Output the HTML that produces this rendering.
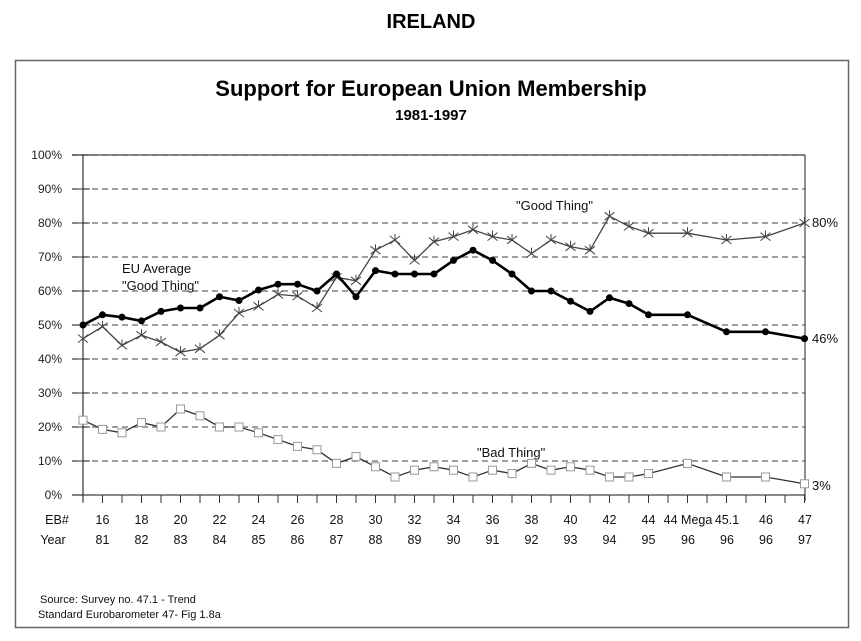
<!DOCTYPE html>
<html><head><meta charset="utf-8"><style>
html,body{margin:0;padding:0;background:#fff;}
svg{display:block;font-family:"Liberation Sans",Arial,sans-serif;}
</style></head><body>
<svg id="s" width="861" height="641" viewBox="0 0 861 641" xmlns="http://www.w3.org/2000/svg">
<rect x="0" y="0" width="861" height="641" fill="#fff"/>
<text x="431" y="28" text-anchor="middle" font-size="20" font-weight="bold">IRELAND</text>
<rect x="15.5" y="60.5" width="833" height="567" fill="none" stroke="#666" stroke-width="1.5"/>
<text x="431" y="96" text-anchor="middle" font-size="22" font-weight="bold">Support for European Union Membership</text>
<text x="431" y="120" text-anchor="middle" font-size="15" font-weight="bold">1981-1997</text>
<g id="grid"></g>
<g id="lbl" font-size="12" fill="#222">
<text x="62" y="159" text-anchor="end">100%</text>
<text x="62" y="193" text-anchor="end">90%</text>
<text x="62" y="227" text-anchor="end">80%</text>
<text x="62" y="261" text-anchor="end">70%</text>
<text x="62" y="295" text-anchor="end">60%</text>
<text x="62" y="329" text-anchor="end">50%</text>
<text x="62" y="363" text-anchor="end">40%</text>
<text x="62" y="397" text-anchor="end">30%</text>
<text x="62" y="431" text-anchor="end">20%</text>
<text x="62" y="465" text-anchor="end">10%</text>
<text x="62" y="499" text-anchor="end">0%</text>
</g>
<g font-size="12.5" fill="#111" text-anchor="middle">
<text x="57" y="524">EB#</text><text x="53" y="544">Year</text>
<text x="102.5" y="524">16</text><text x="102.5" y="544">81</text>
<text x="141.5" y="524">18</text><text x="141.5" y="544">82</text>
<text x="180.5" y="524">20</text><text x="180.5" y="544">83</text>
<text x="219.5" y="524">22</text><text x="219.5" y="544">84</text>
<text x="258.5" y="524">24</text><text x="258.5" y="544">85</text>
<text x="297.5" y="524">26</text><text x="297.5" y="544">86</text>
<text x="336.5" y="524">28</text><text x="336.5" y="544">87</text>
<text x="375.5" y="524">30</text><text x="375.5" y="544">88</text>
<text x="414.5" y="524">32</text><text x="414.5" y="544">89</text>
<text x="453.5" y="524">34</text><text x="453.5" y="544">90</text>
<text x="492.5" y="524">36</text><text x="492.5" y="544">91</text>
<text x="531.5" y="524">38</text><text x="531.5" y="544">92</text>
<text x="570.5" y="524">40</text><text x="570.5" y="544">93</text>
<text x="609.5" y="524">42</text><text x="609.5" y="544">94</text>
<text x="648.5" y="524">44</text><text x="648.5" y="544">95</text>
<text x="688" y="524">44 Mega</text><text x="688" y="544">96</text>
<text x="727" y="524">45.1</text><text x="727" y="544">96</text>
<text x="766" y="524">46</text><text x="766" y="544">96</text>
<text x="805" y="524">47</text><text x="805" y="544">97</text>
</g>
<g font-size="13" fill="#111">
<text x="122" y="273">EU Average</text>
<text x="122" y="290">"Good Thing"</text>
<text x="516" y="210">"Good Thing"</text>
<text x="477" y="457">"Bad Thing"</text>
<text x="812" y="227">80%</text>
<text x="812" y="343">46%</text>
<text x="812" y="490">3%</text>
</g>
<g font-size="11" fill="#111">
<text x="40" y="603">Source:  Survey no.  47.1 - Trend</text>
<text x="38" y="618">Standard Eurobarometer 47- Fig 1.8a</text>
</g>
<g id="data"></g>
</svg>
<script>
var NS="http://www.w3.org/2000/svg";
function X(i){return 83+19.5*i;} function Y(v){return 495-3.4*v;}
function el(p,n,a){var e=document.createElementNS(NS,n);for(var k in a)e.setAttribute(k,a[k]);p.appendChild(e);return e;}
var g=document.getElementById('grid');
for(var k=1;k<=10;k++){var y=Y(k*10);el(g,'line',{x1:72,x2:805,y1:y,y2:y,stroke:'#666','stroke-width':1.2,'stroke-dasharray':'6,4'});}
el(g,'line',{x1:72,x2:805,y1:155,y2:155,stroke:'#444','stroke-width':1.2});
el(g,'line',{x1:72,x2:805,y1:495,y2:495,stroke:'#444','stroke-width':1.2});
el(g,'line',{x1:83,x2:83,y1:155,y2:501,stroke:'#333','stroke-width':1.2});
el(g,'line',{x1:805,x2:805,y1:155,y2:501,stroke:'#444','stroke-width':1.2});
for(var k=0;k<=10;k++){el(g,'line',{x1:72,x2:90,y1:Y(k*10),y2:Y(k*10),stroke:'#333','stroke-width':1});}
for(var i=0;i<=37;i++){el(g,'line',{x1:X(i),x2:X(i),y1:495,y2:503,stroke:'#333','stroke-width':1});}
var star=[[0,46],[1,49.5],[2,44],[3,47],[4,45],[5,42],[6,43],[7,47],[8,53.5],[9,55.5],[10,59],[11,58.5],[12,55],[13,64],[14,63],[15,72],[16,75],[17,69],[18,74.5],[19,76],[20,78],[21,76],[22,75],[23,71],[24,75],[25,73],[26,72],[27,82],[28,79],[29,77],[31,77],[33,75],[35,76],[37,80]];
var eu=[[0,50],[1,53],[2,52.3],[3,51.2],[4,54],[5,55],[6,55],[7,58.3],[8,57.2],[9,60.3],[10,62],[11,62],[12,60],[13,65],[14,58.3],[15,66],[16,65],[17,65],[18,65],[19,69],[20,72],[21,69],[22,65],[23,60],[24,60],[25,57],[26,54],[27,58],[28,56.3],[29,53],[31,53],[33,48],[35,48],[37,46]];
var bad=[[0,22],[1,19.3],[2,18.3],[3,21.3],[4,20],[5,25.3],[6,23.3],[7,20],[8,20],[9,18.3],[10,16.3],[11,14.3],[12,13.3],[13,9.3],[14,11.3],[15,8.3],[16,5.3],[17,7.3],[18,8.3],[19,7.3],[20,5.3],[21,7.3],[22,6.3],[23,9.3],[24,7.3],[25,8.3],[26,7.3],[27,5.3],[28,5.3],[29,6.3],[31,9.3],[33,5.3],[35,5.3],[37,3.3]];
var d=document.getElementById('data');
function pts(a){return a.map(function(p){return X(p[0])+','+Y(p[1]);}).join(' ');}
el(d,'polyline',{points:pts(bad),fill:'none',stroke:'#333','stroke-width':1.3});
bad.forEach(function(p){el(d,'rect',{x:X(p[0])-4,y:Y(p[1])-4,width:8,height:8,fill:'#fff',stroke:'#999','stroke-width':1});});
el(d,'polyline',{points:pts(star),fill:'none',stroke:'#444','stroke-width':1.3});
star.forEach(function(p){var x=X(p[0]),y=Y(p[1]);
 el(d,'path',{d:'M'+(x-5)+' '+(y-4)+'L'+(x+5)+' '+(y+4)+'M'+(x-5)+' '+(y+4)+'L'+(x+5)+' '+(y-4)+'M'+x+' '+(y-6)+'L'+x+' '+(y+1),stroke:'#444','stroke-width':1,fill:'none'});});
el(d,'polyline',{points:pts(eu),fill:'none',stroke:'#000','stroke-width':2.6,'stroke-linejoin':'round'});
eu.forEach(function(p){el(d,'circle',{cx:X(p[0]),cy:Y(p[1]),r:3.5,fill:'#000'});});
</script>
</body></html>
